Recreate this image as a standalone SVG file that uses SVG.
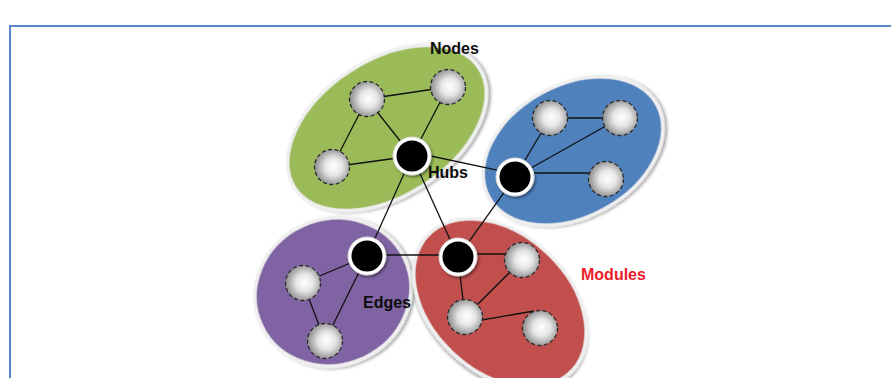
<svg xmlns="http://www.w3.org/2000/svg" width="891" height="378" viewBox="0 0 891 378">
  <defs>
    <radialGradient id="sphere" cx="55%" cy="50%" r="55%" fx="55%" fy="48%">
      <stop offset="0" stop-color="#ffffff"/>
      <stop offset="0.45" stop-color="#e6e6e6"/>
      <stop offset="1" stop-color="#8c8c8c"/>
    </radialGradient>
    <filter id="shadow" x="-20%" y="-20%" width="140%" height="140%">
      <feDropShadow dx="2" dy="2" stdDeviation="1.5" flood-color="#000" flood-opacity="0.35"/>
    </filter>
    <filter id="hubShadow" x="-40%" y="-40%" width="180%" height="180%">
      <feDropShadow dx="1.5" dy="2" stdDeviation="1.2" flood-color="#000" flood-opacity="0.4"/>
    </filter>
  </defs>
  <style>
    .frame { fill: none; stroke: #5b87c6; stroke-width: 2; }
    .module { stroke: #efefef; stroke-width: 3.5; filter: url(#shadow); }
    .edge { stroke: #111; stroke-width: 1.3; fill: none; }
    .node { fill: url(#sphere); stroke: #2a2a2a; stroke-width: 1.3; stroke-dasharray: 4 2.5; }
    .hub-ring { fill: #ffffff; stroke: #dddddd; stroke-width: 1; filter: url(#hubShadow); }
    .hub-core { fill: #000000; }
    .label { font-family: "Liberation Sans", Arial, sans-serif; font-weight: bold; font-size: 16px; fill: #0d0d0d; }
    .label-red { fill: #ec1c2a; }
  </style>

  <rect class="frame" x="10" y="26" width="900" height="400"/>

  <!-- modules -->
  <g id="modules">
    <ellipse id="module-green" class="module" fill="#9bbb59" cx="387" cy="128" rx="110" ry="68" transform="rotate(-33 387 128)"/>
    <ellipse id="module-blue" class="module" fill="#4f81bd" cx="573" cy="151" rx="96" ry="66" transform="rotate(-29 573 151)"/>
    <ellipse id="module-purple" class="module" fill="#8064a2" cx="333" cy="292" rx="79" ry="73" transform="rotate(-25 333 292)"/>
    <ellipse id="module-red" class="module" fill="#c0504d" cx="500" cy="303" rx="99" ry="69" transform="rotate(43 500 303)"/>
  </g>

  <!-- connectors -->
  <g id="connectors">
    <line class="edge" x1="367" y1="99" x2="448" y2="87"/>
    <line class="edge" x1="367" y1="99" x2="332" y2="167"/>
    <line class="edge" x1="367" y1="99" x2="412" y2="156"/>
    <line class="edge" x1="448" y1="87" x2="412" y2="156"/>
    <line class="edge" x1="332" y1="167" x2="412" y2="156"/>
    <line class="edge" x1="412" y1="152" x2="515" y2="174"/>
    <line class="edge" x1="412" y1="156" x2="367" y2="256"/>
    <line class="edge" x1="412" y1="156" x2="458" y2="257"/>
    <line class="edge" x1="515" y1="177" x2="550" y2="118"/>
    <line class="edge" x1="515" y1="177" x2="620" y2="118"/>
    <line class="edge" x1="515" y1="173" x2="606" y2="173"/>
    <line class="edge" x1="550" y1="118" x2="620" y2="118"/>
    <line class="edge" x1="515" y1="177" x2="458" y2="257"/>
    <line class="edge" x1="367" y1="255" x2="458" y2="255"/>
    <line class="edge" x1="367" y1="256" x2="303" y2="283"/>
    <line class="edge" x1="303" y1="283" x2="325" y2="341"/>
    <line class="edge" x1="367" y1="256" x2="325" y2="341"/>
    <line class="edge" x1="458" y1="254" x2="522" y2="254"/>
    <line class="edge" x1="458" y1="257" x2="465" y2="317"/>
    <line class="edge" x1="522" y1="260" x2="465" y2="317"/>
    <line class="edge" x1="465" y1="323" x2="534" y2="311"/>
  </g>

  <!-- nodes -->
  <g id="node-g1"><circle class="node" cx="367" cy="99" r="17.5"/></g>
  <g id="node-g2"><circle class="node" cx="448" cy="87" r="17.5"/></g>
  <g id="node-g3"><circle class="node" cx="332" cy="167" r="17.5"/></g>
  <g id="node-b1"><circle class="node" cx="550" cy="118" r="17.5"/></g>
  <g id="node-b2"><circle class="node" cx="620" cy="118" r="17.5"/></g>
  <g id="node-b3"><circle class="node" cx="606" cy="179" r="17.5"/></g>
  <g id="node-p1"><circle class="node" cx="303" cy="283" r="17.5"/></g>
  <g id="node-p2"><circle class="node" cx="325" cy="341" r="17.5"/></g>
  <g id="node-r1"><circle class="node" cx="522" cy="260" r="17.5"/></g>
  <g id="node-r2"><circle class="node" cx="465" cy="317" r="17.5"/></g>
  <g id="node-r3"><circle class="node" cx="540" cy="328" r="17.5"/></g>

  <!-- hubs -->
  <g id="hub-green"><circle class="hub-ring" cx="412" cy="156" r="19"/><circle class="hub-core" cx="412" cy="156" r="15.5"/></g>
  <g id="hub-blue"><circle class="hub-ring" cx="515" cy="177" r="19"/><circle class="hub-core" cx="515" cy="177" r="15.5"/></g>
  <g id="hub-purple"><circle class="hub-ring" cx="367" cy="256" r="19"/><circle class="hub-core" cx="367" cy="256" r="15.5"/></g>
  <g id="hub-red"><circle class="hub-ring" cx="458" cy="257" r="19"/><circle class="hub-core" cx="458" cy="257" r="15.5"/></g>

  <!-- labels -->
  <g id="labels">
    <text class="label" x="430" y="54">Nodes</text>
    <text class="label" x="428" y="178">Hubs</text>
    <text class="label" x="363" y="308">Edges</text>
    <text class="label label-red" x="581" y="280">Modules</text>
  </g>
</svg>
